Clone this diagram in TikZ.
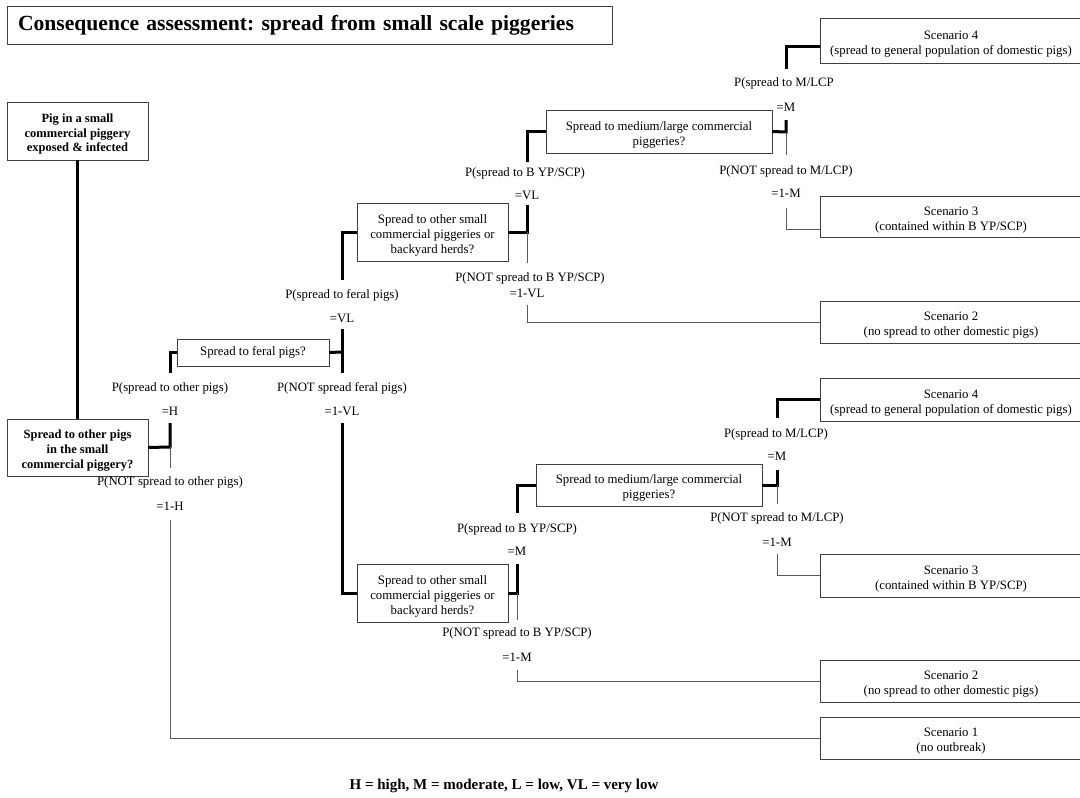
\documentclass[tikz,border=0pt]{standalone}
\usepackage{fontspec}
\setmainfont{Liberation Serif}
\frenchspacing
% a tall invisible rule that lowers a stack of lines inside its box
\newcommand\boxstrut{\rule{0pt}{15pt}}
\begin{document}
\begin{tikzpicture}[x=1pt,y=-1pt,
  every node/.style={inner sep=0pt,outer sep=0pt},
  box/.style={draw=black!75,line width=1pt,fill=white,align=center,
    font=\fontsize{12.8}{15}\selectfont},
  boldbox/.style={box,font=\fontsize{12.5}{14.8}\selectfont\bfseries},
  qbox/.style={box,minimum width=#1},
  scen/.style={box,minimum width=262,minimum height=42},
  lbl/.style={font=\fontsize{12.8}{15}\selectfont},
  strong/.style={line width=3pt,black},
  weak/.style={line width=1pt,black!65},
]
\useasboundingbox (0,0) rectangle (1080,798);
\fill[white] (0,0) rectangle (1080,798);

% title
\node[draw=black!75,line width=1pt,anchor=north west,minimum width=605,
  minimum height=38,text width=583,inner xsep=11,align=left,
  font=\fontsize{21.6}{26}\selectfont\bfseries] (title) at (7,6)
  {Consequence assessment: spread from small scale piggeries};

% start and first question
\node[boldbox,minimum width=141,minimum height=58] (A) at (77.5,131)
  {\boxstrut Pig in a small\\commercial piggery\\exposed \& infected};
\node[boldbox,minimum width=141,minimum height=57] (B) at (77.5,447.5)
  {\boxstrut Spread to other pigs\\in the small\\commercial piggery?};
\draw[strong] (A.south) -- (B.north);

% question boxes
\node[qbox=152,minimum height=27] (C) at (253,352.5)
  {Spread to feral pigs?};
\node[qbox=151,minimum height=58] (D) at (432.5,232)
  {\boxstrut Spread to other small\\commercial piggeries or\\backyard herds?};
\node[qbox=151,minimum height=58] (F) at (432.5,593)
  {\boxstrut Spread to other small\\commercial piggeries or\\backyard herds?};
\node[qbox=226,minimum height=43] (E) at (659,131.5)
  {\boxstrut Spread to medium/large commercial\\piggeries?};
\node[qbox=226,minimum height=42] (G) at (649,485)
  {\boxstrut Spread to medium/large commercial\\piggeries?};

% outcomes
\node[scen,minimum height=45] (S4a) at (951,40.5)
  {\boxstrut Scenario 4\\(spread to general population of domestic pigs)};
\node[scen,minimum height=41] (S3a) at (951,216.5)
  {\boxstrut Scenario 3\\(contained within B YP/SCP)};
\node[scen] (S2a) at (951,322)
  {\boxstrut Scenario 2\\(no spread to other domestic pigs)};
\node[scen,minimum height=43] (S4b) at (951,399.5)
  {\boxstrut Scenario 4\\(spread to general population of domestic pigs)};
\node[scen,minimum height=43] (S3b) at (951,575.5)
  {\boxstrut Scenario 3\\(contained within B YP/SCP)};
\node[scen] (S2b) at (951,681)
  {\boxstrut Scenario 2\\(no spread to other domestic pigs)};
\node[scen] (S1) at (951,738)
  {\boxstrut Scenario 1\\(no outbreak)};

% branch: spread to other pigs
\coordinate (j1) at (170,447);
\coordinate (j1u) at (170,423);
\coordinate (j1d) at (170,468);
\coordinate (c1u) at (170,373);
\coordinate (c1d) at (170,520);
\node[lbl] (p1y) at (170,388) {P(spread to other pigs)};
\node[lbl] (v1y) at (170,411) {=H};
\node[lbl] (p1n) at (170,482) {P(NOT spread to other pigs)};
\node[lbl] (v1n) at (170,506) {=1-H};
\draw[strong] (B.east) -- (j1) -- (j1u);
\draw[weak] (j1) -- (j1d);
\draw[strong] (c1u) |- (C.west);
\draw[weak] (c1d) |- (S1.west);

% branch: spread to feral pigs
\coordinate (j2) at (342,352);
\coordinate (j2u) at (342,329);
\coordinate (j2d) at (342,373);
\coordinate (c2u) at (342,280);
\coordinate (c2d) at (342,423);
\node[lbl] (p2y) at (342,295) {P(spread to feral pigs)};
\node[lbl] (v2y) at (342,318) {=VL};
\node[lbl] (p2n) at (342,388) {P(NOT spread feral pigs)};
\node[lbl] (v2n) at (342,411) {=1-VL};
\draw[strong] (C.east) -- (j2);
\draw[strong] (j2u) -- (j2d);
\draw[strong] (c2u) |- (D.west);
\draw[strong] (c2d) |- (F.west);

% feral pigs: spread to backyard / small commercial herds
\coordinate (j3) at (527,232);
\coordinate (j3u) at (527,205);
\coordinate (j3d) at (527,263);
\coordinate (c3u) at (527,162);
\coordinate (c3d) at (527,305);
\node[lbl] (p3y) at (525,173) {P(spread to B YP/SCP)};
\node[lbl] (v3y) at (527,195) {=VL};
\node[lbl] (p3n) at (530,278) {P(NOT spread to B YP/SCP)};
\node[lbl] (v3n) at (527,293) {=1-VL};
\draw[strong] (D.east) -- (j3) -- (j3u);
\draw[weak] (j3) -- (j3d);
\draw[strong] (c3u) |- (E.west);
\draw[weak] (c3d) |- (S2a.west);

% feral pigs: spread to medium/large piggeries
\coordinate (j4) at (786,132);
\coordinate (j4u) at (786,120);
\coordinate (j4d) at (786,155);
\coordinate (c4u) at (786,69);
\coordinate (c4d) at (786,208);
\node[lbl] (p4y) at (784,83) {P(spread to M/LCP};
\node[lbl] (v4y) at (786,107) {=M};
\node[lbl] (p4n) at (786,171) {P(NOT spread to M/LCP)};
\node[lbl] (v4n) at (786,193) {=1-M};
\draw[strong] (E.east) -- (j4) -- (j4u);
\draw[weak] (j4) -- (j4d);
\draw[strong] (c4u) |- (S4a.west |- 0,46);
\draw[weak] (c4d) |- (S3a.west |- 0,229);

% no feral pigs: spread to backyard / small commercial herds
\coordinate (j5) at (517,593);
\coordinate (j5u) at (517,564);
\coordinate (j5d) at (517,620);
\coordinate (c5u) at (517,513);
\coordinate (c5d) at (517,670);
\node[lbl] (p5y) at (517,529) {P(spread to B YP/SCP)};
\node[lbl] (v5y) at (517,551) {=M};
\node[lbl] (p5n) at (517,633) {P(NOT spread to B YP/SCP)};
\node[lbl] (v5n) at (517,657) {=1-M};
\draw[strong] (F.east) -- (j5) -- (j5u);
\draw[weak] (j5) -- (j5d);
\draw[strong] (c5u) |- (G.west);
\draw[weak] (c5d) |- (S2b.west);

% no feral pigs: spread to medium/large piggeries
\coordinate (j6) at (777,485);
\coordinate (j6u) at (777,470);
\coordinate (j6d) at (777,504);
\coordinate (c6u) at (777,418);
\coordinate (c6d) at (777,554);
\node[lbl] (p6y) at (776,434) {P(spread to M/LCP)};
\node[lbl] (v6y) at (777,456) {=M};
\node[lbl] (p6n) at (777,518) {P(NOT spread to M/LCP)};
\node[lbl] (v6n) at (777,542) {=1-M};
\draw[strong] (G.east) -- (j6) -- (j6u);
\draw[weak] (j6) -- (j6d);
\draw[strong] (c6u) |- (S4b.west);
\draw[weak] (c6d) |- (S3b.west);

% key
\node[font=\fontsize{15}{18}\selectfont\bfseries] (key) at (504,786)
  {H = high, M = moderate, L = low, VL = very low};
\end{tikzpicture}
\end{document}
